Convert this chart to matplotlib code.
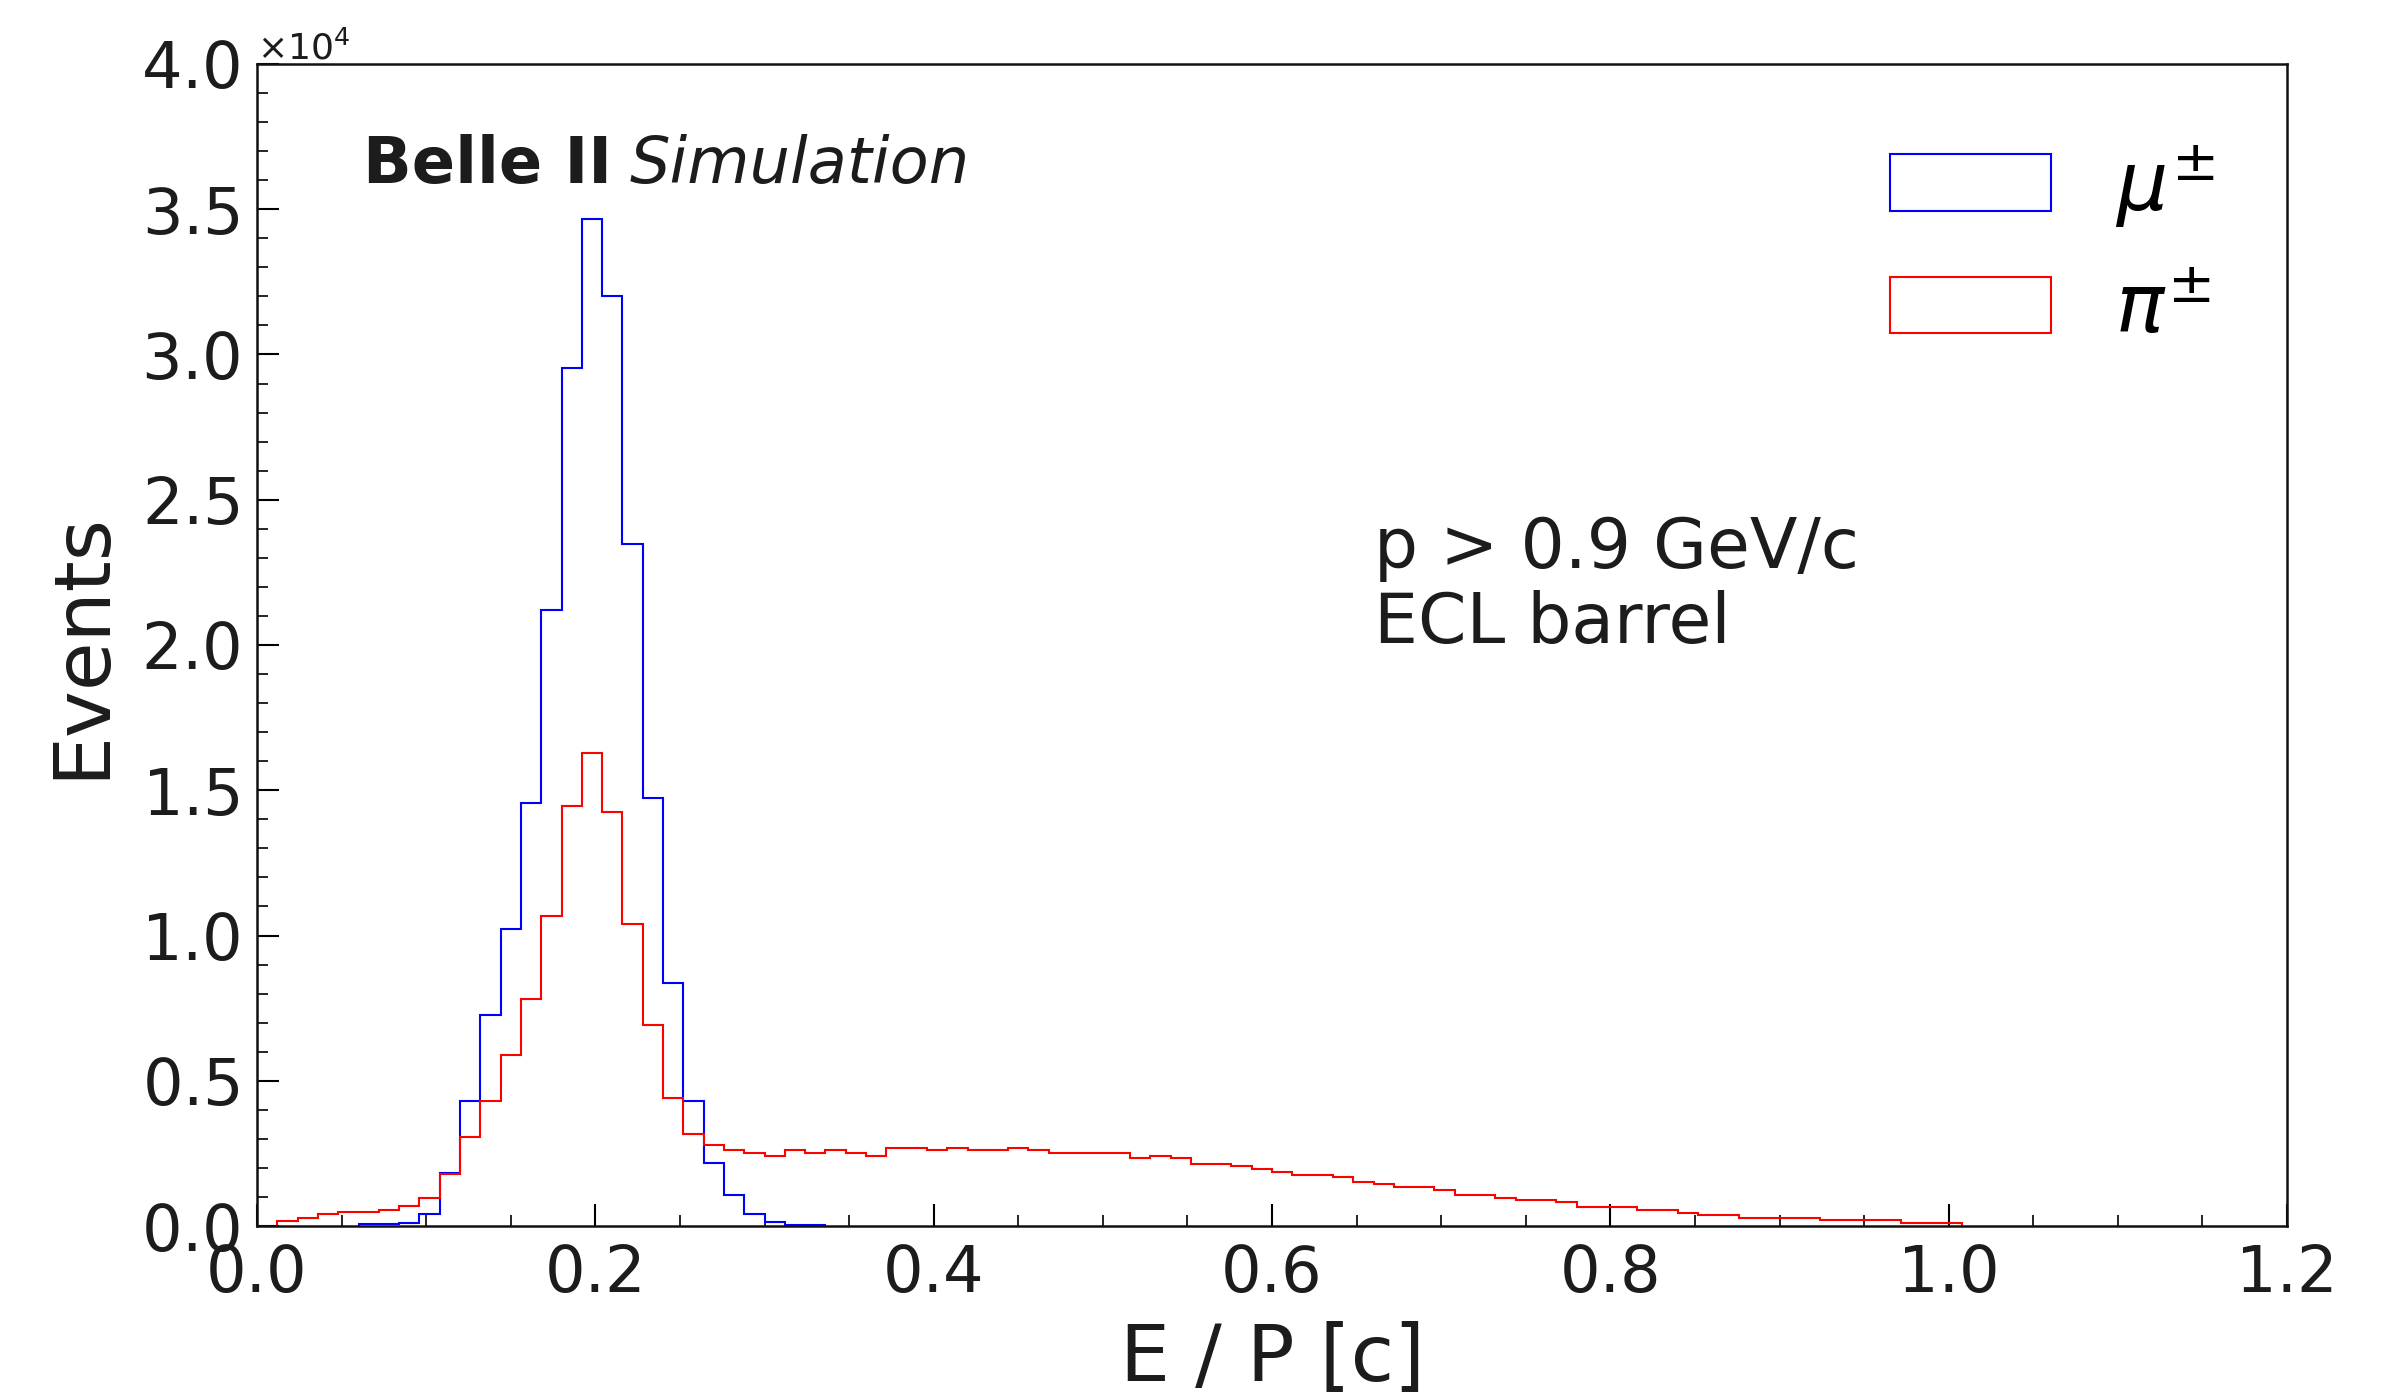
import numpy as np
import matplotlib.pyplot as plt
from matplotlib.ticker import MultipleLocator

# 100 bins of width 0.012 on [0, 1.2]
bordes = np.linspace(0.0, 1.2, 101)

conteo_mu = np.zeros(100)
conteo_mu[5:28] = [60, 70, 90, 400, 1840, 4310, 7250, 10230, 14570, 21190,
                   29530, 34680, 32020, 23470, 14730, 8370, 4300, 2170, 1080,
                   430, 140, 50, 40]

conteo_pi = np.zeros(100)
conteo_pi[1:84] = [160, 280, 400, 470, 470, 560, 680, 980, 1800, 3050,
                   4290, 5870, 7830, 10670, 14450, 16290, 14260, 10400, 6920, 4400,
                   3180, 2800, 2620, 2530, 2420, 2610, 2500, 2610, 2500, 2420,
                   2690, 2690, 2610, 2700, 2600, 2600, 2690, 2600, 2510, 2510,
                   2510, 2510, 2350, 2420, 2350, 2150, 2150, 2060, 1970, 1860,
                   1770, 1770, 1690, 1510, 1430, 1330, 1330, 1230, 1060, 1060,
                   950, 896, 896, 810, 637, 637, 637, 562, 562, 454,
                   367, 367, 292, 292, 292, 292, 216, 216, 216, 216,
                   108, 108, 108]

series = [(conteo_mu, 'blue', r'$\mu^{\pm}$'),
          (conteo_pi, 'red', r'$\pi^{\pm}$')]

texto = '#1c1c1c'

fig = plt.figure(figsize=(23.92, 13.98), dpi=100)
ax = fig.add_axes([257/2392, 1 - 1226/1398, 2030/2392, 1162/1398])

for conteo, color, etiqueta in series:
    nz = np.nonzero(conteo)[0]
    lo, hi = nz[0], nz[-1] + 1
    ax.hist(bordes[lo:hi], bins=bordes[lo:hi + 1], weights=conteo[lo:hi],
            histtype='step', color=color, linewidth=1.5, label=etiqueta)

ax.set_xlim(0, 1.2)
ax.set_ylim(0, 40000)
ax.xaxis.set_major_locator(MultipleLocator(0.2))
ax.xaxis.set_minor_locator(MultipleLocator(0.05))
ax.yaxis.set_major_locator(MultipleLocator(5000))
ax.yaxis.set_minor_locator(MultipleLocator(1000))
ax.ticklabel_format(style='sci', axis='y', scilimits=(0, 0), useMathText=True)
ax.yaxis.get_offset_text().set_fontsize(26)
ax.yaxis.get_offset_text().set_color(texto)

ax.tick_params(which='both', direction='in', top=False, right=False,
               labelsize=46, labelcolor=texto, pad=12)
ax.tick_params(which='major', length=16, width=1.5)
ax.tick_params(which='minor', length=8, width=1.2)
for s in ax.spines.values():
    s.set_linewidth(1.8)
    s.set_color('#111111')

ax.set_xlabel('E / P [c]', fontsize=57, color=texto)
ax.set_ylabel('Events', fontsize=57, color=texto)
ax.xaxis.set_label_coords(0.5, -0.081)
ax.yaxis.set_label_coords(-0.068, 0.5)

# "Belle II" bold, then "Simulation" italic right after it
belle = ax.text(0.052, 0.898, 'Belle II', transform=ax.transAxes,
                fontsize=46, fontweight='bold', color=texto, va='baseline')
fig.canvas.draw()
bb = belle.get_window_extent()
x_fin = ax.transAxes.inverted().transform((bb.x1, bb.y0))[0]
ax.text(x_fin + 0.009, 0.898, 'Simulation', transform=ax.transAxes,
        fontsize=46, style='italic', color=texto, va='baseline')

ax.text(0.550, 0.612, 'p > 0.9 GeV/c\nECL barrel', transform=ax.transAxes,
        fontsize=50, color=texto, va='top', linespacing=1.15)

ax.legend(loc='upper right', bbox_to_anchor=(1.0, 0.9945), fontsize=58,
          frameon=False, labelspacing=0.53, borderaxespad=0.5)

fig.savefig('out.png', dpi=100)
